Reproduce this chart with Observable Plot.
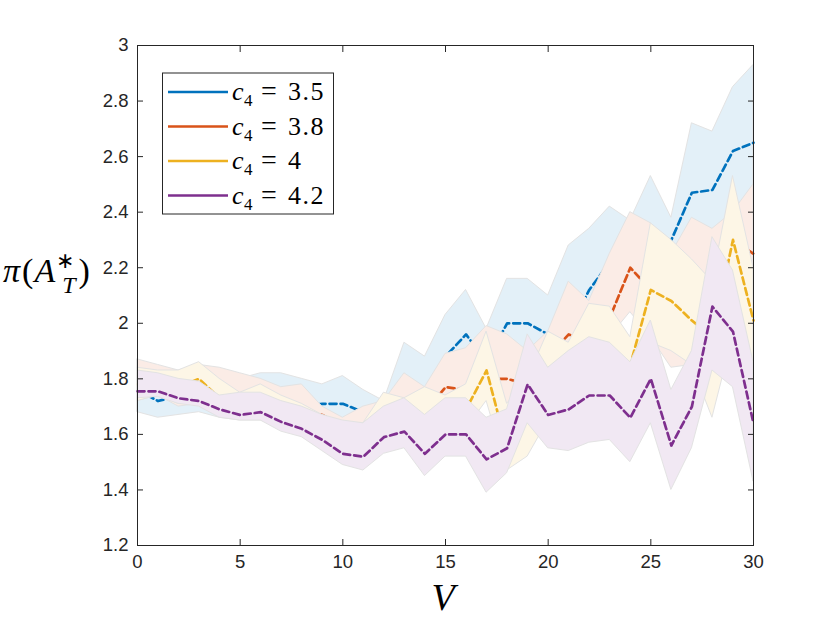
<!DOCTYPE html>
<html><head><meta charset="utf-8">
<script src="https://cdn.jsdelivr.net/npm/d3@7"></script>
<script src="https://cdn.jsdelivr.net/npm/@observablehq/plot@0.6"></script>
<style>html,body{margin:0;padding:0;background:#fff;}</style>
</head><body><div id="chart"></div>
<script>
const V = [0,1,2,3,4,5,6,7,8,9,10,11,12,13,14,15,16,17,18,19,20,21,22,23,24,25,26,27,28,29,30];

const blueMean = [1.76,1.72,1.74,1.75,1.73,1.72,1.73,1.72,1.70,1.71,1.71,1.68,1.66,1.80,1.74,1.88,1.96,1.86,2.00,2.00,1.96,1.98,2.12,2.22,2.25,2.28,2.30,2.47,2.48,2.62,2.65];
const blueHi   = [1.84,1.82,1.81,1.82,1.80,1.80,1.82,1.82,1.80,1.78,1.81,1.76,1.72,1.93,1.88,2.03,2.12,1.98,2.16,2.16,2.10,2.28,2.34,2.42,2.37,2.53,2.38,2.72,2.69,2.85,2.93];
const blueLo   = [1.68,1.66,1.67,1.68,1.66,1.65,1.65,1.63,1.62,1.62,1.62,1.60,1.60,1.68,1.66,1.76,1.82,1.76,1.86,1.85,1.84,1.80,1.96,2.06,2.04,2.05,2.00,2.22,2.27,2.35,2.37];

const redMean = [1.79,1.78,1.76,1.77,1.75,1.74,1.73,1.71,1.69,1.67,1.63,1.62,1.66,1.72,1.68,1.77,1.76,1.80,1.80,1.78,1.88,1.96,1.93,2.02,2.20,2.12,2.05,2.10,2.15,2.30,2.25];
const redHi   = [1.87,1.85,1.83,1.85,1.84,1.82,1.80,1.77,1.78,1.70,1.66,1.70,1.72,1.82,1.77,1.89,1.91,1.99,1.96,1.90,1.97,2.15,2.08,2.25,2.40,2.36,2.25,2.38,2.34,2.40,2.50];
const redLo   = [1.72,1.74,1.70,1.71,1.68,1.67,1.66,1.64,1.62,1.60,1.56,1.55,1.58,1.62,1.58,1.66,1.66,1.73,1.66,1.66,1.76,1.82,1.86,1.95,2.04,1.95,1.84,1.85,1.95,2.15,2.00];

const yelMean = [1.78,1.77,1.77,1.80,1.73,1.72,1.72,1.70,1.68,1.66,1.62,1.60,1.66,1.68,1.64,1.66,1.69,1.83,1.55,1.70,1.75,1.78,1.82,1.86,1.85,2.12,2.08,2.01,1.95,2.30,2.01];
const yelHi   = [1.84,1.83,1.83,1.86,1.80,1.75,1.78,1.74,1.71,1.67,1.64,1.64,1.75,1.73,1.77,1.74,1.78,1.97,1.71,1.80,1.97,1.93,2.07,2.06,1.95,2.36,2.30,2.23,2.15,2.53,2.20];
const yelLo   = [1.72,1.74,1.71,1.71,1.68,1.67,1.66,1.64,1.62,1.60,1.56,1.55,1.58,1.60,1.55,1.58,1.62,1.72,1.47,1.52,1.65,1.70,1.74,1.76,1.72,1.93,1.90,1.85,1.66,1.95,1.80];

const purMean = [1.755,1.755,1.73,1.72,1.69,1.67,1.68,1.645,1.62,1.58,1.53,1.52,1.59,1.61,1.53,1.60,1.60,1.51,1.55,1.78,1.67,1.69,1.74,1.74,1.66,1.80,1.56,1.70,2.06,1.97,1.64];
const purHi   = [1.83,1.82,1.80,1.79,1.74,1.75,1.75,1.72,1.70,1.67,1.65,1.64,1.70,1.73,1.67,1.73,1.73,1.66,1.69,1.96,1.84,1.90,1.95,1.93,1.86,2.01,1.76,1.90,2.31,2.19,1.86];
const purLo   = [1.73,1.735,1.71,1.70,1.66,1.65,1.65,1.61,1.59,1.54,1.49,1.47,1.53,1.55,1.45,1.52,1.52,1.39,1.46,1.64,1.55,1.54,1.57,1.58,1.50,1.64,1.40,1.55,1.83,1.77,1.43];

const c4Values = ["3.5","3.8","4","4.2"];
const lineColors = ["#0072BD","#D95319","#EDB120","#7E2F8E"];
const fillColors = ["#e3f0f8","#fbece6","#fdf6e6","#f1e8f3"];
const xTicks = [0,5,10,15,20,25,30];
const yTicks = [1.2,1.4,1.6,1.8,2,2.2,2.4,2.6,2.8,3];

const seriesData = [
  [blueMean, blueLo, blueHi],
  [redMean, redLo, redHi],
  [yelMean, yelLo, yelHi],
  [purMean, purLo, purHi]
];

const marks = [];
seriesData.forEach(([m, lo, hi], k) => {
  const rows = V.map((v, i) => ({V: v, mean: m[i], lo: lo[i], hi: hi[i]}));
  marks.push(Plot.areaY(rows, {x: "V", y1: "lo", y2: "hi", fill: fillColors[k], stroke: "#e3e3e3", strokeWidth: 1}));
  marks.push(Plot.line(rows, {x: "V", y: "mean", stroke: lineColors[k], strokeWidth: 2.7, strokeDasharray: "7,4"}));
});

const axisColor = "#262626";
const fmtY = d => String(+d.toFixed(1));
marks.push(
  Plot.axisX(xTicks, {anchor: "bottom", tickSize: 6, dy: -6, tickFormat: () => "", stroke: axisColor, label: null}),
  Plot.axisX(xTicks, {anchor: "top", tickSize: 6, dy: 6, tickFormat: () => "", stroke: axisColor, label: null}),
  Plot.axisY(yTicks, {anchor: "left", tickSize: 6, dx: 6, tickFormat: () => "", stroke: axisColor, label: null}),
  Plot.axisY(yTicks, {anchor: "right", tickSize: 6, dx: -6, tickFormat: () => "", stroke: axisColor, label: null}),
  Plot.axisX(xTicks, {anchor: "bottom", tickSize: 0, tickPadding: 9, fill: axisColor, label: null, fontSize: 18.5}),
  Plot.axisY(yTicks, {anchor: "left", tickSize: 0, tickPadding: 9, tickFormat: fmtY, fill: axisColor, label: null, fontSize: 18.5}),
  Plot.frame({stroke: axisColor, strokeWidth: 1})
);

const chart = Plot.plot({
  width: 830,
  height: 623,
  marginLeft: 137,
  marginRight: 77,
  marginTop: 45,
  marginBottom: 78,
  x: {domain: [0, 30]},
  y: {domain: [1.2, 3]},
  style: {fontFamily: "'Liberation Sans', Arial, sans-serif", fontSize: "18px", background: "#fff", color: axisColor},
  marks
});

const svg = d3.select(chart);
const serif = "'Liberation Serif', 'Times New Roman', serif";

// Legend
const lg = svg.append("g").attr("text-anchor", "start");
lg.append("rect").attr("x", 162.5).attr("y", 73).attr("width", 171).attr("height", 141)
  .attr("fill", "#fff").attr("stroke", axisColor).attr("stroke-width", 1);
c4Values.forEach((val, k) => {
  const base = 100 + k * 34.5;
  lg.append("line").attr("x1", 168).attr("x2", 228).attr("y1", base - 8).attr("y2", base - 8)
    .attr("stroke", lineColors[k]).attr("stroke-width", 2.5);
  const t = lg.append("text").attr("y", base).attr("text-anchor", "start").attr("font-family", serif).attr("font-size", 26).attr("fill", "#000");
  t.append("tspan").attr("x", 232).attr("font-style", "italic").text("c");
  t.append("tspan").attr("x", 244).attr("dy", 6).attr("font-size", 17).text("4");
  t.append("tspan").attr("x", 261).attr("dy", -6).attr("font-size", 28).text("=");
  t.append("tspan").attr("x", 288).attr("font-size", 26).attr("letter-spacing", 1.5).text(val);
});

// Y label
const yl = svg.append("text").attr("x", 3).attr("y", 282).attr("text-anchor", "start").attr("font-family", serif).attr("font-size", 34).attr("fill", "#000");
yl.append("tspan").attr("font-style", "italic").text("π");
yl.append("tspan").attr("dx", 2).text("(");
yl.append("tspan").attr("dx", 1).attr("font-style", "italic").text("A");
yl.append("tspan").attr("dx", 1).attr("dy", -14).attr("font-size", 22).text("∗");
yl.append("tspan").attr("dx", -12).attr("dy", 25).attr("font-size", 24).attr("font-style", "italic").text("T");
yl.append("tspan").attr("dx", 3).attr("dy", -11).text(")");

// X label
svg.append("text").attr("x", 443).attr("y", 610).attr("text-anchor", "middle")
  .attr("font-family", serif).attr("font-size", 38).attr("font-style", "italic").attr("fill", "#000").text("V");

document.getElementById("chart").appendChild(chart);
</script>
</body></html>
